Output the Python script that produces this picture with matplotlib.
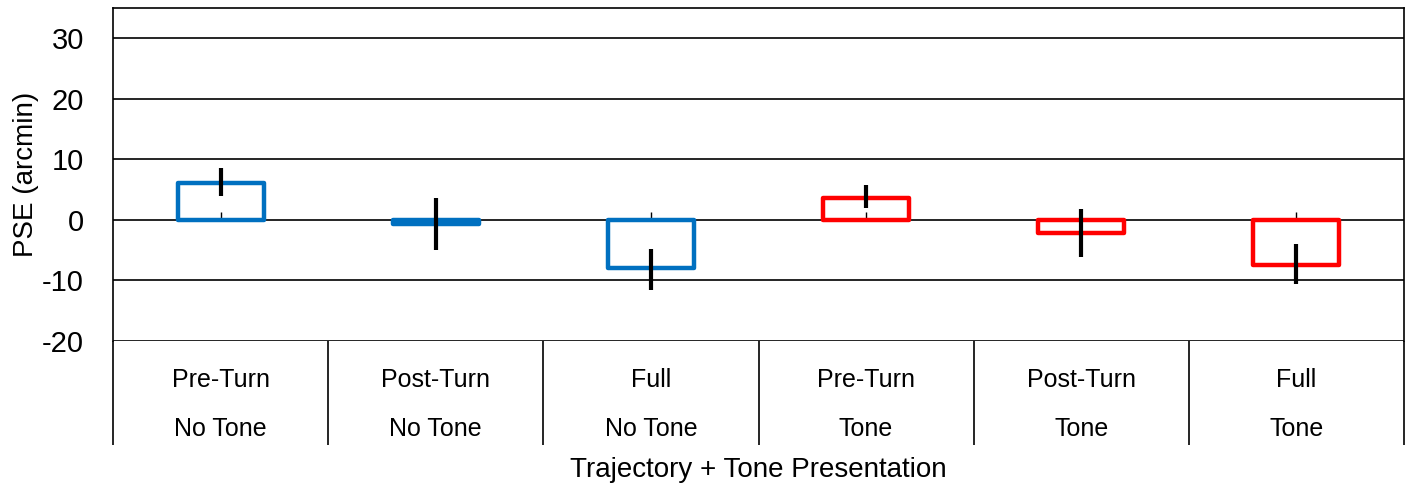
import matplotlib
matplotlib.use("Agg")
from matplotlib import pyplot as plt
import numpy as np

plt.rcParams['font.family'] = ['Liberation Sans', 'DejaVu Sans']
plt.rcParams['axes.unicode_minus'] = False

# Data
trajectory = ["Pre-Turn", "Post-Turn", "Full", "Pre-Turn", "Post-Turn", "Full"]
tone = ["No Tone", "No Tone", "No Tone", "Tone", "Tone", "Tone"]
pse = [6.1, -0.6, -8.0, 3.7, -2.1, -7.4]
err_center = [6.25, -0.65, -8.25, 3.85, -2.2, -7.3]
err_size = [2.3, 4.35, 3.4, 1.95, 4.0, 3.3]
colors = ["#0070C0", "#0070C0", "#0070C0", "#FF0000", "#FF0000", "#FF0000"]

fig = plt.figure(figsize=(14.06, 4.90), dpi=100)
ax = fig.add_axes([113 / 1406, 1 - 341 / 490, (1404 - 113) / 1406, (341 - 8) / 490])

x = np.arange(len(pse))

# Hollow bars
bars = ax.bar(x, pse, width=0.4, facecolor="none", edgecolor=colors, linewidth=3.2, zorder=3)
for b in bars:
    b.set_joinstyle("round")

# Error bars
ax.errorbar(x, err_center, yerr=err_size, fmt="none", ecolor="black",
            elinewidth=3.0, capsize=0, zorder=4)

ax.set_xlim(-0.5, len(pse) - 0.5)
ax.set_ylim(-20, 35)
ax.set_yticks([-20, -10, 0, 10, 20, 30])
ax.yaxis.grid(True, color="black", linewidth=1.2)
ax.set_axisbelow(True)
ax.tick_params(axis="y", length=0, pad=21, labelsize=21)

# Small category ticks on the zero line
ax.spines['bottom'].set_position(('data', 0))
ax.spines['bottom'].set_visible(False)
ax.set_xticks(x)
ax.set_xticklabels([])
ax.tick_params(axis="x", direction="in", length=6, width=1.0, color="black")

for s in ['left', 'top', 'right']:
    ax.spines[s].set_linewidth(1.2)

ax.set_ylabel("PSE (arcmin)", fontsize=20, labelpad=2)

# Category table below the plot
tab = fig.add_axes([113 / 1406, 1 - 445 / 490, (1404 - 113) / 1406, (445 - 341) / 490])
tab.set_xlim(ax.get_xlim())
tab.set_ylim(0, 1)
tab.axis("off")
tab.vlines(np.arange(len(pse) + 1) - 0.5, 0, 1, color="black", linewidth=1.2, clip_on=False)
for i in x:
    tab.text(i, 0.625, trajectory[i], ha="center", va="center", fontsize=18)
    tab.text(i, 0.154, tone[i], ha="center", va="center", fontsize=18)

fig.text((113 + 1404) / 2 / 1406, 1 - 470 / 490, "Trajectory + Tone Presentation",
         ha="center", va="center", fontsize=20)

fig.savefig("out.png", dpi=100)
